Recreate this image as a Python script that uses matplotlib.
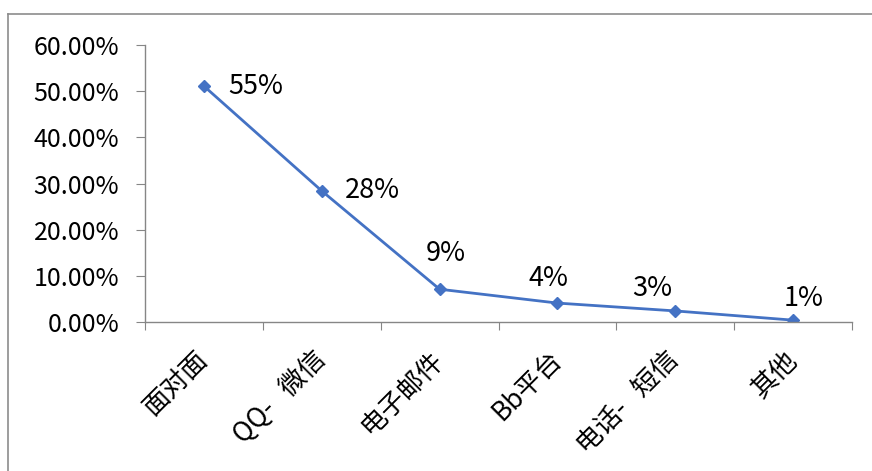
import matplotlib
matplotlib.use('Agg')
import matplotlib.pyplot as plt
from matplotlib.ticker import PercentFormatter
from matplotlib.lines import Line2D

plt.rcParams['font.family'] = ['Noto Sans CJK SC', 'DejaVu Sans']

# channels and their shares (plotted values, labels as printed)
categories = ['面对面', 'QQ-   微信', '电子邮件', 'Bb平台', '电话-   短信', '其他']
shares = [0.511, 0.284, 0.071, 0.041, 0.024, 0.004]
share_labels = ['55%', '28%', '9%', '4%', '3%', '1%']

line_color = '#4472C4'
axis_color = '#868686'

fig = plt.figure(figsize=(8.72, 4.71), dpi=100)
ax = fig.add_axes([145/872, 1 - 322/471, 707/872, 277/471])

x = list(range(len(categories)))
ax.plot(x, shares, color=line_color, linewidth=2, marker='D', markersize=6.5)

# label offsets in pixels, picked by eye
offsets = [(52, 0), (51, 0), (6, 36), (-9, 25), (-23, 22), (10, 22)]
for xi, yi, lab, (dx, dy) in zip(x, shares, share_labels, offsets):
    ax.annotate(lab, (xi, yi), xytext=(dx, dy), textcoords='offset pixels',
                ha='center', va='center', fontsize=19.5)

ax.set_xlim(-0.5, len(categories) - 0.5)
ax.set_ylim(0, 0.6)
ax.set_yticks([0, 0.1, 0.2, 0.3, 0.4, 0.5, 0.6])
ax.yaxis.set_major_formatter(PercentFormatter(1.0, decimals=2))

ax.set_xticks([i - 0.5 for i in range(len(categories) + 1)], minor=False)
ax.set_xticklabels([])
ax.set_xticks(x, minor=True)
ax.set_xticklabels(categories, minor=True, rotation=45, ha='right', va='center',
                   rotation_mode='anchor', fontsize=19)
ax.tick_params(axis='x', which='minor', length=0, pad=24)
ax.tick_params(axis='x', which='major', length=6, color=axis_color)
ax.tick_params(axis='y', length=6.5, pad=12, color=axis_color, labelsize=18)

for s in ['top', 'right']:
    ax.spines[s].set_visible(False)
for s in ['left', 'bottom']:
    ax.spines[s].set_color(axis_color)
    ax.spines[s].set_linewidth(1)

# chart area border (only top and left edges visible)
fig.add_artist(Line2D([7.5/872, 1], [1 - 13.5/471, 1 - 13.5/471], color='#8c8c8c', linewidth=1.2))
fig.add_artist(Line2D([7.5/872, 7.5/872], [0, 1 - 13.5/471], color='#8c8c8c', linewidth=1.2))

fig.savefig('out.png', dpi=100)
